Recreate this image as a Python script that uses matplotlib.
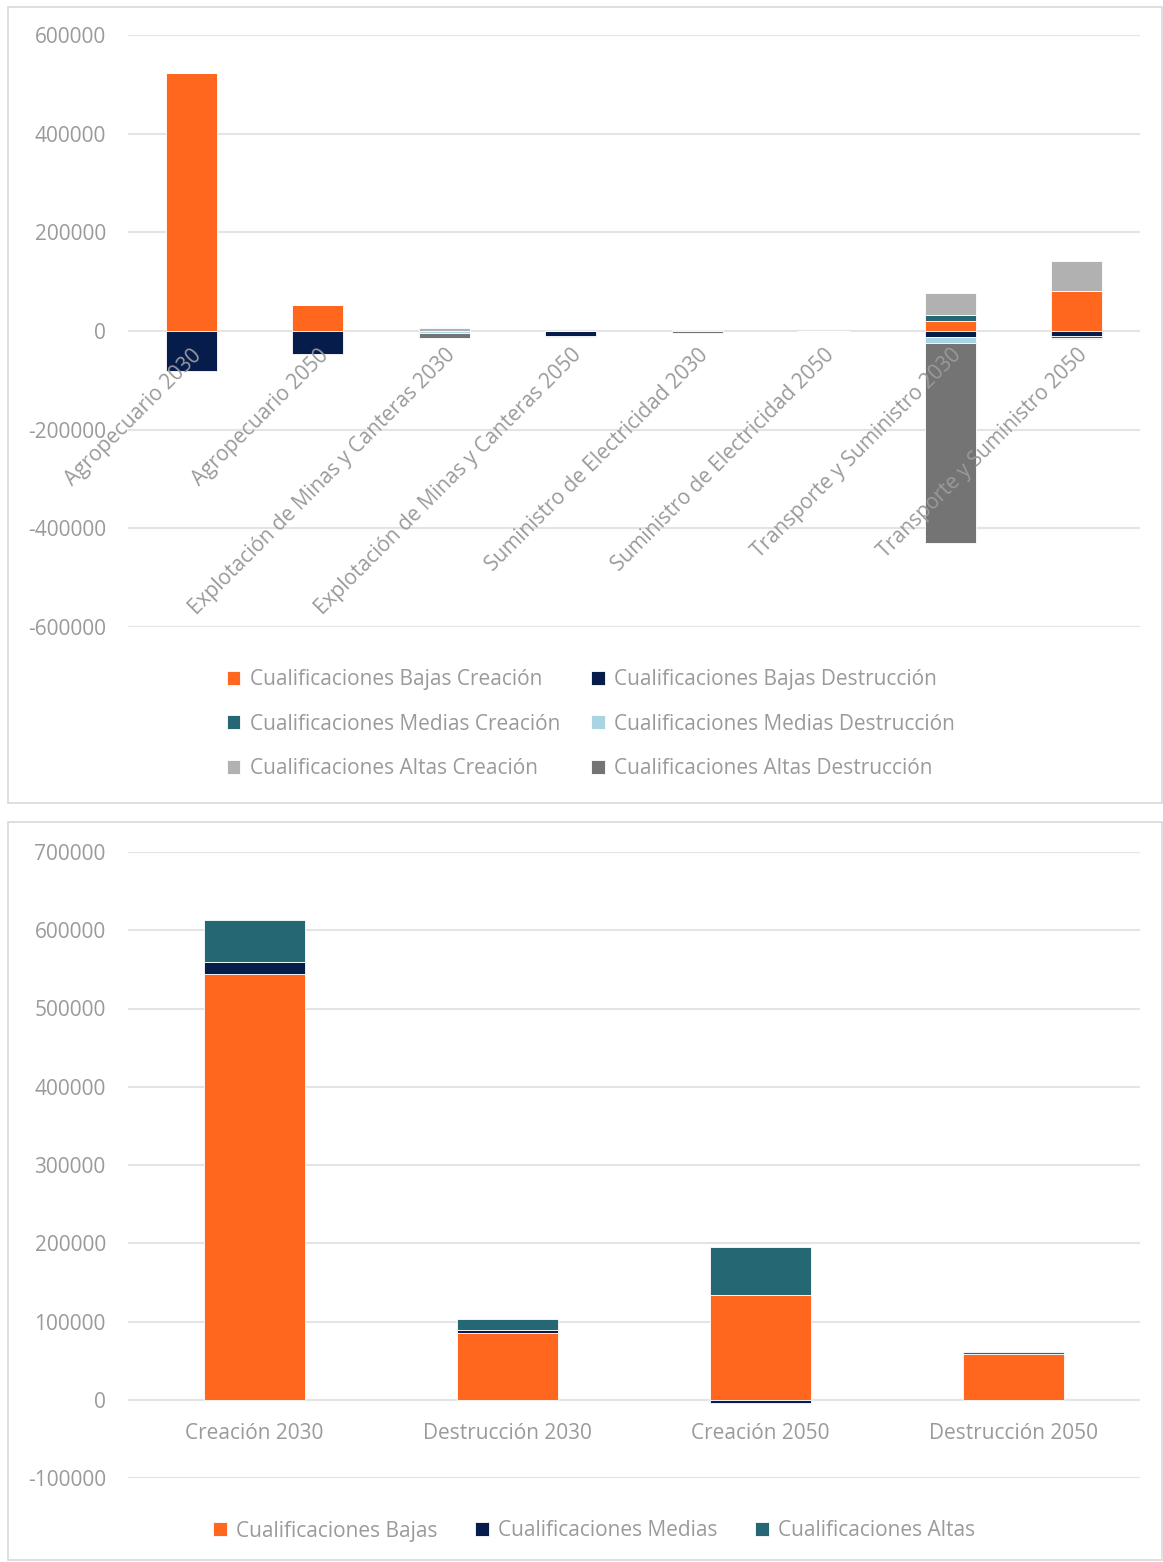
import numpy as np
import matplotlib.pyplot as plt
from matplotlib.patches import Rectangle

plt.rcParams['font.family'] = ['Open Sans', 'DejaVu Sans']
plt.rcParams['axes.unicode_minus'] = False

# --- data: top chart ---
sectores = ["Agropecuario 2030", "Agropecuario 2050",
            "Explotación de Minas y Canteras 2030", "Explotación de Minas y Canteras 2050",
            "Suministro de Electricidad 2030", "Suministro de Electricidad 2050",
            "Transporte y Suministro 2030", "Transporte y Suministro 2050"]
bajas_creacion = [523000, 53000, 0, 0, 0, 0, 19500, 80200]
bajas_destruccion = [-81000, -47000, -1000, -11000, 0, 0, -12000, -9500]
medias_creacion = [0, 0, 1000, 0, 0, 0, 12000, -5400]
medias_destruccion = [0, 0, -3000, 0, -1000, 0, -11500, 0]
altas_creacion = [0, 0, 6000, 0, 2000, 0, 46000, 60800]
altas_destruccion = [0, 0, -10000, -1500, -3000, 0, -406600, -1500]

# --- data: bottom chart ---
escenarios = ["Creación 2030", "Destrucción 2030", "Creación 2050", "Destrucción 2050"]
cual_bajas = [544000, 84700, 134000, 58700]
cual_medias = [15300, 4700, -4000, 0]
cual_altas = [53600, 13600, 60900, 2500]

NARANJA = '#ff671f'
NAVY = '#061d4c'
TEAL = '#256873'
CELESTE = '#a9d4e1'
GRIS_CLARO = '#b1b1b1'
GRIS_OSC = '#747474'
TXT = '#9a9a9a'
GRID = '#e4e4e4'
FS = 15


def stacked(ax, cats, series, colors, labels, width):
    x = np.arange(len(cats))
    pos = np.zeros(len(cats))
    neg = np.zeros(len(cats))
    handles = []
    for vals, c, lab in zip(series, colors, labels):
        vals = np.array(vals, dtype=float)
        bottom = np.where(vals >= 0, pos, neg)
        h = ax.bar(x, vals, width, bottom=bottom, color=c, label=lab,
                   edgecolor='white', linewidth=0.6, zorder=3)
        handles.append(h)
        pos = pos + np.where(vals >= 0, vals, 0)
        neg = neg + np.where(vals < 0, vals, 0)
    return x, handles


def style_axis(ax):
    for s in ['top', 'right', 'left']:
        ax.spines[s].set_visible(False)
    ax.spines['bottom'].set_position(('data', 0))
    ax.spines['bottom'].set_visible(False)
    ax.yaxis.grid(True, color=GRID, linewidth=1.5, zorder=0)
    ax.set_axisbelow(True)
    ax.xaxis.set_zorder(5)  # category labels drawn over the bars, like Excel
    ax.tick_params(axis='y', length=0, pad=16, labelsize=FS, labelcolor=TXT)
    ax.tick_params(axis='x', length=0, labelsize=FS, labelcolor=TXT)


fig = plt.figure(figsize=(11.63, 15.62), dpi=100)

# panel borders
fig.add_artist(Rectangle((8 / 1163, 1 - 803 / 1562), 1154 / 1163, 796 / 1562,
                         transform=fig.transFigure, fill=False, edgecolor='#d9d9d9', linewidth=1.2))
fig.add_artist(Rectangle((8 / 1163, 1 - 1560 / 1562), 1154 / 1163, 738 / 1562,
                         transform=fig.transFigure, fill=False, edgecolor='#d9d9d9', linewidth=1.2))

# --- top chart ---
ax1 = fig.add_axes([128 / 1163, 1 - 627 / 1562, 1012 / 1163, 592 / 1562])
x1, h1 = stacked(ax1, sectores,
                 [bajas_creacion, bajas_destruccion, medias_creacion,
                  medias_destruccion, altas_creacion, altas_destruccion],
                 [NARANJA, NAVY, TEAL, CELESTE, GRIS_CLARO, GRIS_OSC],
                 ["Cualificaciones Bajas Creación", "Cualificaciones Bajas Destrucción",
                  "Cualificaciones Medias Creación", "Cualificaciones Medias Destrucción",
                  "Cualificaciones Altas Creación", "Cualificaciones Altas Destrucción"],
                 0.4)
style_axis(ax1)
ax1.set_ylim(-600000, 600000)
ax1.set_yticks(np.arange(-600000, 600001, 200000))
ax1.set_xlim(-0.5, len(sectores) - 0.5)
ax1.set_xticks(x1)
ax1.set_xticklabels(sectores, rotation=45, ha='right', va='top', rotation_mode='anchor')
ax1.tick_params(axis='x', pad=10)

order = [0, 2, 4, 1, 3, 5]
fig.legend([h1[i] for i in order], [h1[i].get_label() for i in order],
           loc='center', bbox_to_anchor=(0.508, 1 - 724 / 1562), ncol=2, frameon=False,
           fontsize=FS, labelcolor=TXT, handlelength=0.65, handleheight=0.65,
           handletextpad=0.45, labelspacing=1.13, columnspacing=1.5)

# --- bottom chart ---
ax2 = fig.add_axes([128 / 1163, 1 - 1478 / 1562, 1012 / 1163, 626 / 1562])
x2, h2 = stacked(ax2, escenarios, [cual_bajas, cual_medias, cual_altas],
                 [NARANJA, NAVY, TEAL],
                 ["Cualificaciones Bajas", "Cualificaciones Medias", "Cualificaciones Altas"],
                 0.4)
style_axis(ax2)
ax2.set_ylim(-100000, 700000)
ax2.set_yticks(np.arange(-100000, 700001, 100000))
ax2.set_xlim(-0.5, len(escenarios) - 0.5)
ax2.set_xticks(x2)
ax2.set_xticklabels(escenarios)
ax2.tick_params(axis='x', pad=17)

fig.legend(h2, [h.get_label() for h in h2], loc='center',
           bbox_to_anchor=(0.511, 1 - 1531 / 1562), ncol=3, frameon=False,
           fontsize=FS, labelcolor=TXT, handlelength=0.65, handleheight=0.65,
           handletextpad=0.45, columnspacing=1.8)

fig.savefig('out.png', dpi=100, facecolor='white')
